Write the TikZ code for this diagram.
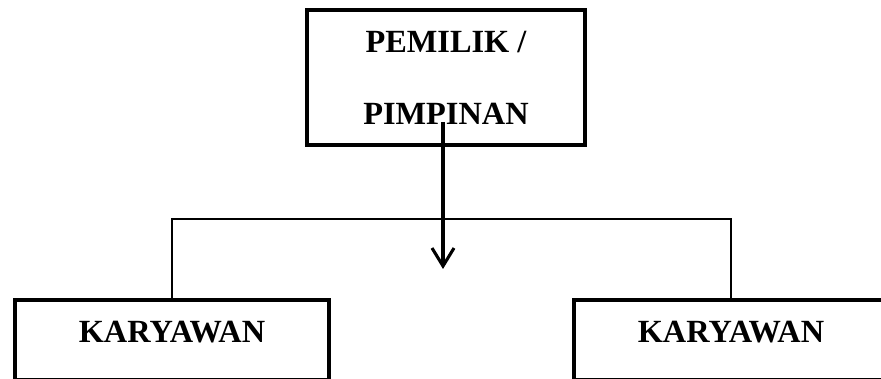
\documentclass[tikz,border=0pt]{standalone}
\usepackage{fontspec}
\setmainfont{Liberation Serif}
\usetikzlibrary{arrows.meta}

\begin{document}
\begin{tikzpicture}[
  x=0.025cm, y=-0.025cm,
  box/.style={draw, line width=2.8pt, font=\fontsize{23}{51}\selectfont\bfseries, align=center},
  staffbox/.style={box, minimum width=7.85cm, minimum height=2cm, text depth=12pt},
  link/.style={line width=1.1pt},
  down/.style={line width=2.5pt, -{Straight Barb[length=4.5mm, width=5.5mm, line width=2.2pt]}}
]
\useasboundingbox (0,0) rectangle (881,379);
\clip (0,0) rectangle (881,379);

% --- boxes ---
\node[box, minimum width=6.95cm, minimum height=3.375cm] (owner) at (446,77.5) {PEMILIK /\\PIMPINAN};
\node[staffbox] (staffL) at (172,340) {KARYAWAN};
\node[staffbox] (staffR) at (731,340) {KARYAWAN};

% --- connectors ---
\coordinate (from) at (443,122);
\coordinate (to)   at (443,269);
\coordinate (bar)  at (446,219);
\draw[link] (staffL.north) |- (bar) -| (staffR.north);
\draw[down] (from) -- (to);

\end{tikzpicture}
\end{document}
